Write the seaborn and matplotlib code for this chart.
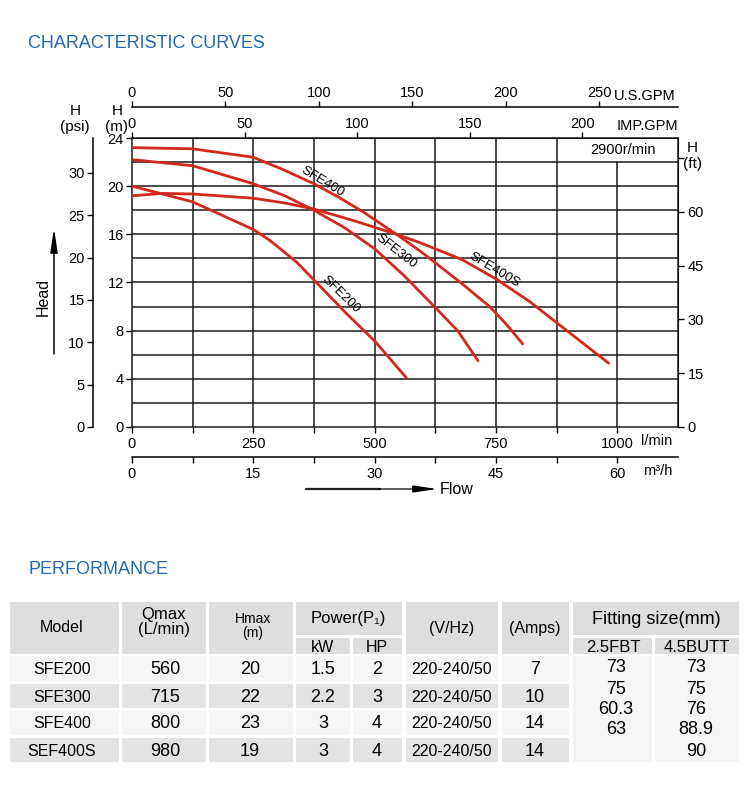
import matplotlib
matplotlib.use('Agg')
import matplotlib.pyplot as plt
import seaborn as sns
import pandas as pd
from matplotlib.patches import Rectangle

# pump curves: flow (l/min) vs head (m)
sfe200_q = [0, 125, 250, 284, 339, 380, 440, 501, 565]
sfe200_h = [20.0, 18.7, 16.4, 15.5, 13.7, 12.0, 9.5, 7.1, 4.1]
sfe300_q = [0, 125, 250, 315, 375, 440, 500, 560, 623, 671, 713]
sfe300_h = [22.2, 21.7, 20.2, 19.2, 18.0, 16.5, 14.8, 12.6, 10.0, 8.0, 5.5]
sfe400_q = [0, 125, 250, 310, 375, 425, 475, 545, 594, 623, 680, 737, 772, 805]
sfe400_h = [23.2, 23.1, 22.4, 21.4, 20.2, 19.1, 17.9, 16.0, 14.6, 13.7, 11.9, 10.0, 8.5, 6.9]
sfe400s_q = [0, 63, 125, 250, 315, 375, 460, 545, 594, 680, 750, 820, 877, 982]
sfe400s_h = [19.2, 19.4, 19.35, 19.0, 18.6, 18.1, 17.1, 16.0, 15.3, 13.9, 12.3, 10.4, 8.6, 5.3]

models = ['SFE200', 'SFE300', 'SFE400', 'SFE400S']

lpm_ticks = [0, 125, 250, 375, 500, 625, 750, 875, 1000]
lpm_labels = ['0', '', '250', '', '500', '', '750', '', '1000']
m_ticks = [0, 4, 8, 12, 16, 20, 24]
psi_ticks = [0, 5, 10, 15, 20, 25, 30]
ft_ticks = [0, 15, 30, 45, 60, 75]
ft_labels = ['0', '15', '30', '45', '60', '']
m3h_ticks = [0, 7.5, 15, 22.5, 30, 37.5, 45, 52.5, 60]
m3h_labels = ['0', '', '15', '', '30', '', '45', '', '60']
imp_ticks = [0, 50, 100, 150, 200]
us_ticks = [0, 50, 100, 150, 200, 250]

# performance table
tab_model = ['SFE200', 'SFE300', 'SFE400', 'SEF400S']
tab_qmax = ['560', '715', '800', '980']
tab_hmax = ['20', '22', '23', '19']
tab_kw = ['1.5', '2.2', '3', '3']
tab_hp = ['2', '3', '4', '4']
tab_volt = ['220-240/50'] * 4
tab_amps = ['7', '10', '14', '14']
fit_fbt = ['73', '75', '60.3', '63']
fit_butt = ['73', '75', '76', '88.9', '90']

RED = '#d2281e'
BLUE = '#2268b0'
GRID = '#1a1a1a'
TICK_FS = 10.5

sns.set_style('white')
plt.rcParams['font.family'] = ['Liberation Sans', 'DejaVu Sans']
plt.rcParams['axes.edgecolor'] = 'black'
plt.rcParams['xtick.color'] = 'black'
plt.rcParams['ytick.color'] = 'black'
plt.rcParams['text.color'] = 'black'

fig = plt.figure(figsize=(7.5, 7.94), dpi=100)
fig.patch.set_facecolor('white')

# background axes in pixel coordinates for titles, arrows, table
bg = fig.add_axes([0, 0, 1, 1])
bg.set_xlim(0, 750)
bg.set_ylim(794, 0)
bg.axis('off')

ax = fig.add_axes([132 / 750, 1 - 427 / 794, 546 / 750, 289 / 794])

frames = []
for name, q, h in [('SFE200', sfe200_q, sfe200_h), ('SFE300', sfe300_q, sfe300_h),
                   ('SFE400', sfe400_q, sfe400_h), ('SFE400S', sfe400s_q, sfe400s_h)]:
    frames.append(pd.DataFrame({'model': name, 'flow': q, 'head': h}))
df = pd.concat(frames, ignore_index=True)

sns.lineplot(data=df, x='flow', y='head', hue='model', palette={m: RED for m in models},
             estimator=None, sort=False, legend=False, lw=2.0, ax=ax, zorder=3)

ax.set_xlim(0, 1125)
ax.set_ylim(0, 24)
ax.set_xlabel('')
ax.set_ylabel('')

# grid (the 1000 line stops below the speed label)
for x in lpm_ticks[1:-1]:
    ax.axvline(x, color=GRID, lw=1.1, zorder=1)
ax.axvline(1000, ymax=22 / 24, color=GRID, lw=1.1, zorder=1)
for y in range(2, 24, 2):
    ax.axhline(y, color=GRID, lw=1.1, zorder=1)
for s in ax.spines.values():
    s.set_visible(True)
    s.set_linewidth(1.1)
    s.set_color(GRID)

ax.set_xticks(lpm_ticks)
ax.set_xticklabels(lpm_labels)
ax.set_yticks(m_ticks)
ax.tick_params(axis='x', bottom=True, top=False, length=4, width=1, labelsize=TICK_FS, pad=3)
ax.tick_params(axis='y', left=True, right=False, length=4, width=1, labelsize=TICK_FS, pad=2)

# curve labels
for txt, q, h, rot in [('SFE400', 392, 20.4, -31), ('SFE300', 545, 14.6, -38),
                       ('SFE200', 430, 11.0, -44), ('SFE400S', 747, 13.0, -31)]:
    ax.text(q, h, txt, rotation=rot, rotation_mode='anchor', ha='center', va='center',
            fontsize=9.5, zorder=4)
ax.text(1012, 23, '2900r/min', ha='center', va='center', fontsize=10.5)

# secondary scales
imp = ax.secondary_xaxis('top', functions=(lambda q: q / 4.64, lambda g: g * 4.64))
imp.set_xticks(imp_ticks)
imp.tick_params(length=4, width=1, labelsize=TICK_FS, pad=1)

us = ax.secondary_xaxis((427 - 107) / 289, functions=(lambda q: q / 3.85, lambda g: g * 3.85))
us.set_xticks(us_ticks)
us.tick_params(length=4, width=1, labelsize=TICK_FS, pad=1)
us.spines['top'].set_linewidth(1.1)

m3h = ax.secondary_xaxis((427 - 457) / 289, functions=(lambda q: q * 0.06, lambda v: v / 0.06))
m3h.set_xticks(m3h_ticks)
m3h.set_xticklabels(m3h_labels)
m3h.tick_params(length=4, width=1, labelsize=TICK_FS, pad=3)
m3h.spines['bottom'].set_linewidth(1.1)

psi = ax.secondary_yaxis((93 - 132) / 546, functions=(lambda h: h * 1.422, lambda p: p / 1.422))
psi.set_yticks(psi_ticks)
psi.tick_params(length=4, width=1, labelsize=TICK_FS, pad=2)
psi.spines['left'].set_linewidth(1.1)

ft = ax.secondary_yaxis('right', functions=(lambda h: h * 3.36, lambda f: f / 3.36))
ft.set_yticks(ft_ticks)
ft.set_yticklabels(ft_labels)
ft.tick_params(length=4, width=1, labelsize=TICK_FS, pad=3)

# axis captions
bg.text(614, 96, 'U.S.GPM', ha='left', va='center', fontsize=TICK_FS)
bg.text(617, 126, 'IMP.GPM', ha='left', va='center', fontsize=TICK_FS)
bg.text(641, 441, 'l/min', ha='left', va='center', fontsize=TICK_FS)
bg.text(643, 471, 'm³/h', ha='left', va='center', fontsize=TICK_FS)
bg.text(75, 119, 'H\n(psi)', ha='center', va='center', fontsize=11, linespacing=1.15)
bg.text(117, 119, 'H\n(m)', ha='center', va='center', fontsize=11, linespacing=1.15)
bg.text(692, 156, 'H\n(ft)', ha='center', va='center', fontsize=11, linespacing=1.15)

# head and flow arrows
bg.annotate('', xy=(54, 228), xytext=(54, 354),
            arrowprops=dict(arrowstyle='-|>,head_width=0.18,head_length=1.2', color='black',
                            lw=1.1, mutation_scale=12, shrinkA=0, shrinkB=0))
bg.text(43, 297, 'Head', rotation=90, ha='center', va='center', fontsize=11.5)
bg.plot([306, 380], [489, 489], color='#222222', lw=1.6)
bg.annotate('', xy=(437, 489), xytext=(378, 489),
            arrowprops=dict(arrowstyle='-|>,head_width=0.18,head_length=1.2', color='black',
                            lw=0.9, mutation_scale=12, shrinkA=0, shrinkB=0))
bg.text(440, 490, 'Flow', ha='left', va='center', fontsize=11.5)

# section titles
bg.text(28, 44, 'CHARACTERISTIC CURVES', ha='left', va='center', fontsize=13, color=BLUE)
bg.text(28, 569, 'PERFORMANCE', ha='left', va='center', fontsize=13, color=BLUE)

# table
HEAD_C = '#dedede'
LIGHT = '#f5f5f5'
DARK = '#e3e3e3'


def cell(x0, x1, y0, y1, fc):
    bg.add_patch(Rectangle((x0, y0), x1 - x0, y1 - y0, facecolor=fc, edgecolor='white', lw=1.5))


cols = [(9, 120), (121, 207), (208, 294), (295, 351), (352, 403), (405, 499), (501, 570)]
for (x0, x1) in [cols[0], cols[1], cols[2], cols[5], cols[6]]:
    cell(x0, x1, 601, 655, HEAD_C)
cell(295, 403, 601, 636, HEAD_C)
cell(295, 351, 637, 655, HEAD_C)
cell(352, 403, 637, 655, HEAD_C)
cell(572, 740, 601, 636, HEAD_C)
cell(572, 653, 637, 655, HEAD_C)
cell(654, 740, 637, 655, HEAD_C)

bg.text(62, 628, 'Model', ha='center', va='center', fontsize=11.5)
bg.text(164, 622, 'Qmax\n(L/min)', ha='center', va='center', fontsize=12, linespacing=0.95)
bg.text(253, 626, 'Hmax\n(m)', ha='center', va='center', fontsize=10, linespacing=1.0)
bg.text(348, 618, 'Power(P₁)', ha='center', va='center', fontsize=12)
bg.text(323, 647, 'kW', ha='center', va='center', fontsize=11.5)
bg.text(377, 647, 'HP', ha='center', va='center', fontsize=11.5)
bg.text(452, 628, '(V/Hz)', ha='center', va='center', fontsize=11.5)
bg.text(535, 628, '(Amps)', ha='center', va='center', fontsize=11.5)
bg.text(656, 620, 'Fitting size(mm)', ha='center', va='center', fontsize=13)
bg.text(613, 647, '2.5FBT', ha='center', va='center', fontsize=12)
bg.text(697, 647, '4.5BUTT', ha='center', va='center', fontsize=12)

rows = [(655, 682), (683, 709), (710, 736), (737, 763)]
row_y = [669, 697, 724, 751]
for i, (y0, y1) in enumerate(rows):
    fc = LIGHT if i % 2 == 0 else DARK
    for (x0, x1) in cols:
        cell(x0, x1, y0, y1, fc)
    vals = [tab_model[i], tab_qmax[i], tab_hmax[i], tab_kw[i], tab_hp[i], tab_volt[i], tab_amps[i]]
    sizes = [11.5, 13, 13, 13, 13, 11.5, 13]
    xs = [62, 165, 250, 323, 377, 452, 535]
    for v, x, fs in zip(vals, xs, sizes):
        bg.text(x, row_y[i], v, ha='center', va='center', fontsize=fs)

cell(572, 653, 655, 763, LIGHT)
cell(654, 740, 655, 763, LIGHT)
fit_y = [668, 689, 709, 730, 751]
for v, y in zip(fit_fbt, fit_y):
    bg.text(616, y, v, ha='center', va='center', fontsize=13)
for v, y in zip(fit_butt, fit_y):
    bg.text(696, y, v, ha='center', va='center', fontsize=13)

fig.savefig('out.png', dpi=100, facecolor='white')
